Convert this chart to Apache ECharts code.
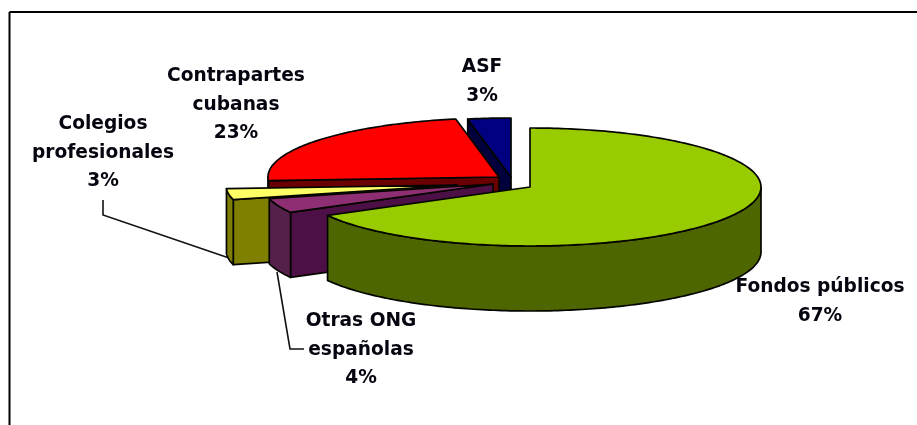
<!DOCTYPE html>
<html>
<head>
<meta charset="utf-8">
<title>Fuentes de financiación</title>
<script src="https://cdn.jsdelivr.net/npm/echarts@6/dist/echarts.min.js"></script>
<style>
  html, body { margin: 0; padding: 0; background: #fff; }
  #chart { width: 917px; height: 425px; }
</style>
</head>
<body>
<div id="chart"></div>
<script>
// clockwise from 12 o'clock
var categories = ['Fondos públicos', 'Otras ONG españolas', 'Colegios profesionales', 'Contrapartes cubanas', 'ASF'];
var shares = [67, 4, 3, 23, 3];

var labelLines = [['Fondos públicos'], ['Otras ONG', 'españolas'], ['Colegios', 'profesionales'], ['Contrapartes', 'cubanas'], ['ASF']];

// look of the fake 3d pie
var topColors = ['#99cc00', '#8f2f73', '#ffff66', '#ff0000', '#000080'];
var sideColors = ['#4d6600', '#55204c', '#7d7d08', '#800000', '#00003c'];
var cutColors = ['#4d6600', '#4d1046', '#808000', '#6a0000', '#00003c'];
var apexes = [[530, 187], [493, 184], [457, 185], [499, 177], [511, 177]]; // each slice is pulled out on its own
var labelCenters = [[820, 287], [361, 321], [103, 124], [236, 76], [482, 67]];
var radiusX = 231, radiusY = 59, depth = 65;
var lineHeight = 28.7;

var leaderLines = [
  [[103, 200], [103, 215], [232, 259]],
  [[304, 349], [290, 349], [277, 272]]
];

var total = shares.reduce(function (a, b) { return a + b; }, 0);
var startAngles = [];
var running = 0;
shares.forEach(function (v) {
  startAngles.push(running);
  running += v / total * 360;
});

function rimPoint(apex, deg, drop) {
  var r = deg * Math.PI / 180;
  return [apex[0] + radiusX * Math.sin(r), apex[1] - radiusY * Math.cos(r) + (drop || 0)];
}

function arcPoints(apex, from, to, drop) {
  var pts = [];
  for (var d = from; d < to; d += 1) pts.push(rimPoint(apex, d, drop));
  pts.push(rimPoint(apex, to, drop));
  return pts;
}

function face(points, color) {
  return {
    type: 'polygon',
    shape: { points: points },
    style: { fill: color, stroke: '#050500', lineWidth: 1.7, lineJoin: 'round' }
  };
}

function renderSlice(params, api) {
  var i = api.value(0);
  var from = startAngles[i];
  var to = from + shares[i] / total * 360;
  var apex = apexes[i];
  var kids = [];

  // cut face on the start edge shows only when it looks towards the viewer
  if (from > 180) {
    var rim = rimPoint(apex, from);
    var rimLow = rimPoint(apex, from, depth);
    kids.push(face([apex, rim, rimLow, [apex[0], apex[1] + depth]], cutColors[i]));
  }
  // outer wall, front half of the ellipse only
  var wallFrom = Math.max(from, 90);
  var wallTo = Math.min(to, 270);
  if (wallTo > wallFrom) {
    var upper = arcPoints(apex, wallFrom, wallTo, 0);
    var lower = arcPoints(apex, wallFrom, wallTo, depth).reverse();
    kids.push(face(upper.concat(lower), sideColors[i]));
  }
  kids.push(face([apex].concat(arcPoints(apex, from, to, 0)), topColors[i]));
  return { type: 'group', children: kids };
}

// back slices first so the near ones cover them
var drawOrder = shares.map(function (v, i) { return i; }).reverse();

var graphics = [
  { type: 'line', shape: { x1: 9.5, y1: 12, x2: 917, y2: 12 }, style: { stroke: '#000', lineWidth: 2 } },
  { type: 'line', shape: { x1: 9.5, y1: 12, x2: 9.5, y2: 425 }, style: { stroke: '#000', lineWidth: 2 } }
];
leaderLines.forEach(function (pts) {
  graphics.push({
    type: 'polyline',
    shape: { points: pts },
    style: { stroke: '#111', lineWidth: 1.6, fill: null }
  });
});
categories.forEach(function (name, i) {
  var lines = labelLines[i].concat([shares[i] + '%']);
  lines.forEach(function (txt, k) {
    graphics.push({
      type: 'text',
      z: 10,
      x: labelCenters[i][0],
      y: labelCenters[i][1] + k * lineHeight,
      style: {
        text: txt,
        fill: '#050510',
        font: 'bold 18.6px "DejaVu Sans"',
        align: 'center',
        verticalAlign: 'middle'
      }
    });
  });
});

var chart = echarts.init(document.getElementById('chart'));
chart.setOption({
  backgroundColor: '#fff',
  animation: false,
  graphic: graphics,
  series: [{
    type: 'custom',
    coordinateSystem: 'none',
    silent: true,
    renderItem: renderSlice,
    data: drawOrder.map(function (i) { return [i, shares[i]]; })
  }]
});
</script>
</body>
</html>
